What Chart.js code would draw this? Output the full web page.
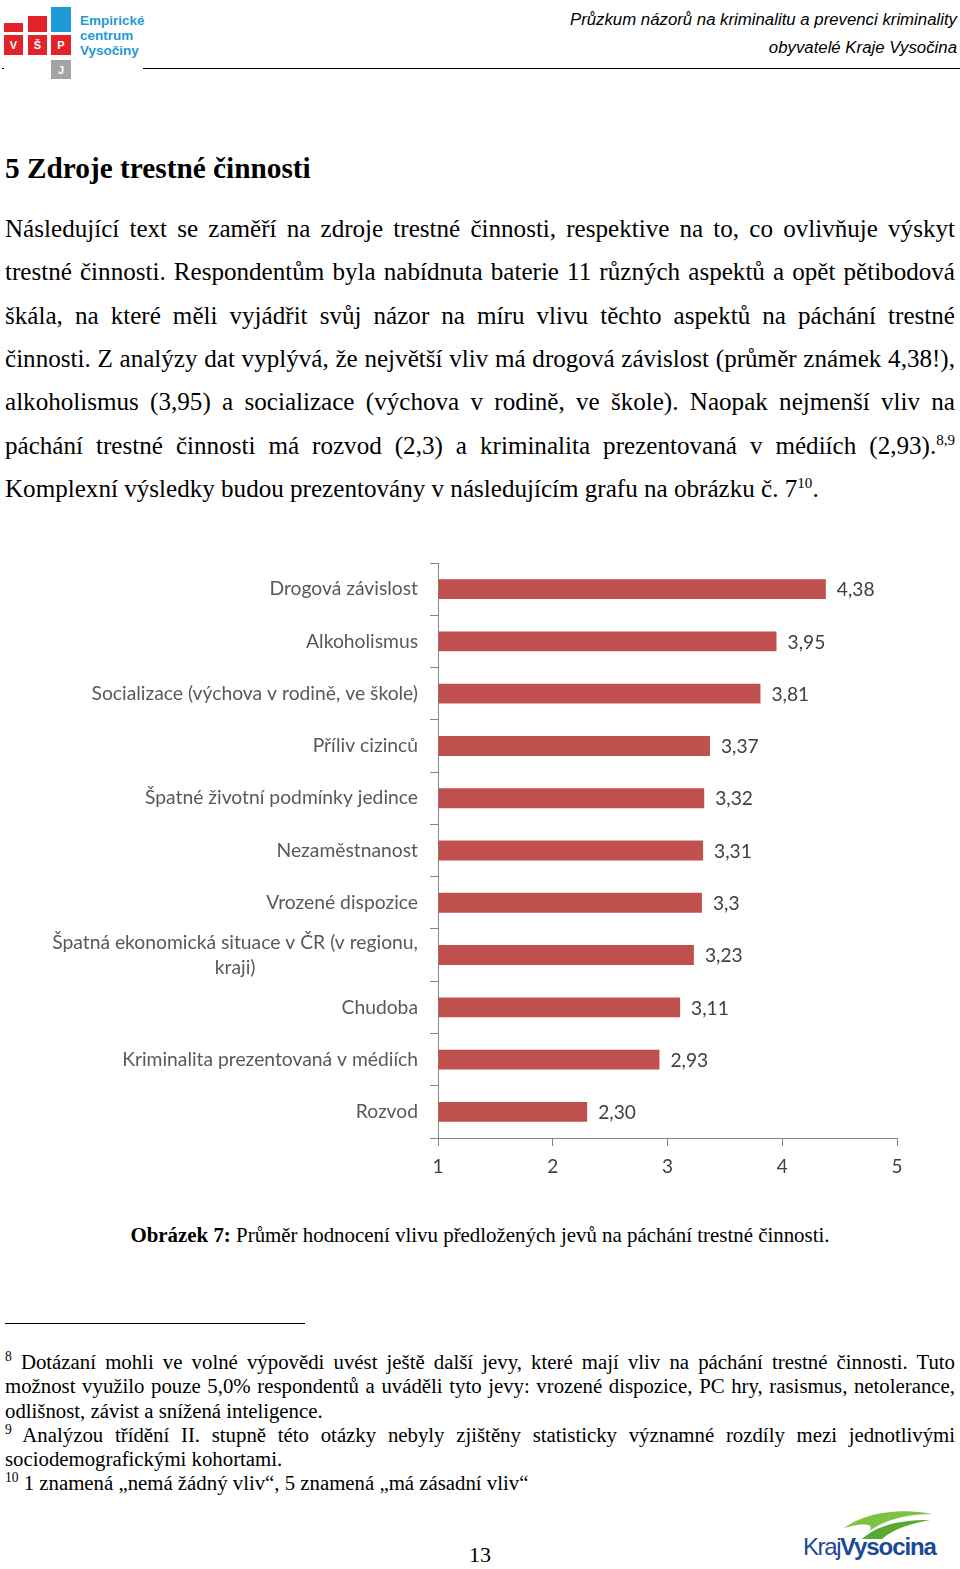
<!DOCTYPE html>
<html lang="cs">
<head>
<meta charset="utf-8">
<script src="https://cdn.jsdelivr.net/npm/chart.js@4/dist/chart.umd.min.js"></script>
<style>
html,body{margin:0;padding:0;background:#fff;}
body{width:960px;height:1569px;position:relative;overflow:hidden;font-family:"Liberation Serif","Times New Roman",serif;color:#000;}
.abs{position:absolute;}
.sq{position:absolute;color:#fff;font:bold 11px "Liberation Sans",Arial,sans-serif;text-align:center;line-height:20px;}
.hdr{position:absolute;right:3px;font:italic 16.8px "Liberation Sans",Arial,sans-serif;white-space:nowrap;}
.ln{position:absolute;left:5px;width:950px;font-size:25.1px;white-space:nowrap;text-align:justify;text-align-last:justify;}
.ln.last{text-align-last:left;}
.fn{position:absolute;left:5px;width:950px;font-size:20.8px;white-space:nowrap;text-align:justify;text-align-last:justify;}
.fn.last{text-align-last:left;}
.fn sup{font-size:65%;}
sup{font-size:60%;line-height:0;}
</style>
</head>
<body>
<!-- logo VŠPJ -->
<div class="sq" style="left:4px;top:23px;width:19px;height:9px;background:#e2232a;"></div>
<div class="sq" style="left:28px;top:16px;width:19px;height:16px;background:#e2232a;"></div>
<div class="sq" style="left:51px;top:7px;width:20px;height:25px;background:#1e9ad6;"></div>
<div class="sq" style="left:4px;top:35px;width:19px;height:20px;background:#e2232a;">V</div>
<div class="sq" style="left:28px;top:35px;width:19px;height:20px;background:#e2232a;">Š</div>
<div class="sq" style="left:51px;top:35px;width:20px;height:20px;background:#e2232a;">P</div>
<div class="sq" style="left:51px;top:60px;width:20px;height:19px;background:#a3a3a3;">J</div>
<div class="abs" style="left:80px;top:13px;font:bold 13.5px/15px 'Liberation Sans',Arial,sans-serif;color:#1e9ad6;">Empirické<br>centrum<br>Vysočiny</div>
<div class="abs" style="left:2px;top:68px;width:2px;height:1px;background:#000;"></div>
<div class="abs" style="left:143px;top:68px;width:817px;height:1px;background:#000;"></div>
<div class="hdr" style="top:10px;">Průzkum názorů na kriminalitu a prevenci kriminality</div>
<div class="hdr" style="top:38px;">obyvatelé Kraje Vysočina</div>

<div class="abs" style="left:5px;top:152px;font:bold 29.3px 'Liberation Serif',serif;">5 Zdroje trestné činnosti</div>

<div class="ln" style="top:215px;">Následující text se zaměří na zdroje trestné činnosti, respektive na to, co ovlivňuje výskyt</div>
<div class="ln" style="top:258px;">trestné činnosti. Respondentům byla nabídnuta baterie 11 různých aspektů a opět pětibodová</div>
<div class="ln" style="top:302px;">škála, na které měli vyjádřit svůj názor na míru vlivu těchto aspektů na páchání trestné</div>
<div class="ln" style="top:345px;">činnosti. Z analýzy dat vyplývá, že největší vliv má drogová závislost (průměr známek 4,38!),</div>
<div class="ln" style="top:388px;">alkoholismus (3,95) a socializace (výchova v rodině, ve škole). Naopak nejmenší vliv na</div>
<div class="ln" style="top:432px;">páchání trestné činnosti má rozvod (2,3) a kriminalita prezentovaná v médiích (2,93).<sup>8,9</sup></div>
<div class="ln last" style="top:475px;">Komplexní výsledky budou prezentovány v následujícím grafu na obrázku č. 7<sup>10</sup>.</div>

<canvas id="graf" class="abs" style="left:0;top:550px;" width="960" height="640"></canvas>

<div class="abs" style="left:0;width:960px;top:1223px;text-align:center;font-size:20.9px;"><b>Obrázek 7:</b> Průměr hodnocení vlivu předložených jevů na páchání trestné činnosti.</div>

<div class="abs" style="left:5px;top:1323px;width:300px;height:1px;background:#000;"></div>
<div class="fn" style="top:1350px;"><sup>8</sup> Dotázaní mohli ve volné výpovědi uvést ještě další jevy, které mají vliv na páchání trestné činnosti. Tuto</div>
<div class="fn" style="top:1374px;">možnost využilo pouze 5,0% respondentů a uváděli tyto jevy: vrozené dispozice, PC hry, rasismus, netolerance,</div>
<div class="fn last" style="top:1399px;">odlišnost, závist a snížená inteligence.</div>
<div class="fn" style="top:1423px;"><sup>9</sup> Analýzou třídění II. stupně této otázky nebyly zjištěny statisticky významné rozdíly mezi jednotlivými</div>
<div class="fn last" style="top:1447px;">sociodemografickými kohortami.</div>
<div class="fn last" style="top:1471px;"><sup>10</sup> 1 znamená „nemá žádný vliv“, 5 znamená „má zásadní vliv“</div>

<div class="abs" style="left:0;width:960px;top:1542px;text-align:center;font-size:22px;">13</div>

<!-- logo Kraj Vysočina -->
<svg class="abs" style="left:836px;top:1508px;" width="100" height="32" viewBox="0 0 100 32">
  <path d="M8,20 C30,4 65,0 96,6 C70,6 48,12 32,24 C40,16 30,14 8,20 Z" fill="#7dc242"/>
  <path d="M26,31 C40,18 62,12 94,12 C72,16 56,22 46,31 Z" fill="#5aa832"/>
</svg>
<div class="abs" style="left:803px;top:1533px;font:24px 'Liberation Sans',Arial,sans-serif;color:#1b4a94;letter-spacing:-1.4px;white-space:nowrap;">Kraj<b style="letter-spacing:-1.1px;">Vysocina</b></div>

<script>
//kategorie (osa Y)
var kategorie = [
	"Drogová závislost",
	"Alkoholismus",
	"Socializace (výchova v rodině, ve škole)",
	"Příliv cizinců",
	"Špatné životní podmínky jedince",
	"Nezaměstnanost",
	"Vrozené dispozice",
	["Špatná ekonomická situace v ČR (v regionu,", "kraji)"],
	"Chudoba",
	"Kriminalita prezentovaná v médiích",
	"Rozvod"
];
//průměry
var hodnoty = [4.38, 3.95, 3.81, 3.37, 3.32, 3.31, 3.3, 3.23, 3.11, 2.93, 2.30];
//popisky hodnot tak, jak jsou v grafu
var popisky = ["4,38", "3,95", "3,81", "3,37", "3,32", "3,31", "3,3", "3,23", "3,11", "2,93", "2,30"];
//popisky osy X
var osaX = [1, 2, 3, 4, 5];

var pismo = "Lato, 'Open Sans', sans-serif";

//vlastní popisky osy Y (víceřádkový je zarovnaný na střed)
var popiskyY = {
	id: "popiskyY",
	afterDraw: function (chart) {
		var ctx = chart.ctx;
		var sy = chart.scales.y;
		ctx.save();
		ctx.font = "19.3px " + pismo;
		ctx.fillStyle = "#595959";
		ctx.textBaseline = "middle";
		var prave = sy.right - 20;
		for (var i = 0; i < kategorie.length; i++) {
			var y = sy.getPixelForValue(i);
			var l = kategorie[i];
			if (Array.isArray(l)) {
				var maxW = 0;
				for (var j = 0; j < l.length; j++) maxW = Math.max(maxW, ctx.measureText(l[j]).width);
				ctx.textAlign = "center";
				var lh = 25;
				var y0 = y - (l.length - 1) * lh / 2;
				for (var j = 0; j < l.length; j++) ctx.fillText(l[j], prave - maxW / 2, y0 + j * lh);
			} else {
				ctx.textAlign = "right";
				ctx.fillText(l, prave, y);
			}
		}
		ctx.restore();
	}
};

//popisky hodnot za koncem sloupce
var popiskyHodnot = {
	id: "popiskyHodnot",
	afterDatasetsDraw: function (chart) {
		var ctx = chart.ctx;
		var meta = chart.getDatasetMeta(0);
		ctx.save();
		ctx.font = "19.2px " + pismo;
		ctx.fillStyle = "#404040";
		ctx.textAlign = "left";
		ctx.textBaseline = "middle";
		meta.data.forEach(function (bar, i) {
			ctx.fillText(popisky[i], bar.x + 11, bar.y + 1);
		});
		ctx.restore();
	}
};

var graf = new Chart(document.getElementById("graf").getContext("2d"), {
	type: "bar",
	data: {
		labels: kategorie,
		datasets: [{
			data: hodnoty,
			base: osaX[0],
			backgroundColor: "#c0504d",
			borderWidth: 0,
			barPercentage: 0.38,
			categoryPercentage: 1
		}]
	},
	options: {
		indexAxis: "y",
		responsive: false,
		animation: false,
		layout: { padding: { left: 0, right: 63, top: 13, bottom: 0 } },
		plugins: { legend: { display: false }, tooltip: { enabled: false } },
		scales: {
			x: {
				min: osaX[0],
				max: osaX[osaX.length - 1],
				afterBuildTicks: function (s) { s.ticks = osaX.map(function (v) { return { value: v }; }); },
				ticks: { font: { family: pismo, size: 19 }, color: "#404040", padding: 9 },
				grid: { drawOnChartArea: false, tickLength: 8, color: "#868686" },
				border: { color: "#868686" },
				afterFit: function (s) { s.height = 52; }
			},
			y: {
				ticks: { display: false },
				grid: { drawOnChartArea: false, offset: true, tickLength: 8, color: "#868686" },
				border: { color: "#868686" },
				afterFit: function (s) { s.width = 438; }
			}
		}
	},
	plugins: [popiskyY, popiskyHodnot]
});
</script>
</body>
</html>
